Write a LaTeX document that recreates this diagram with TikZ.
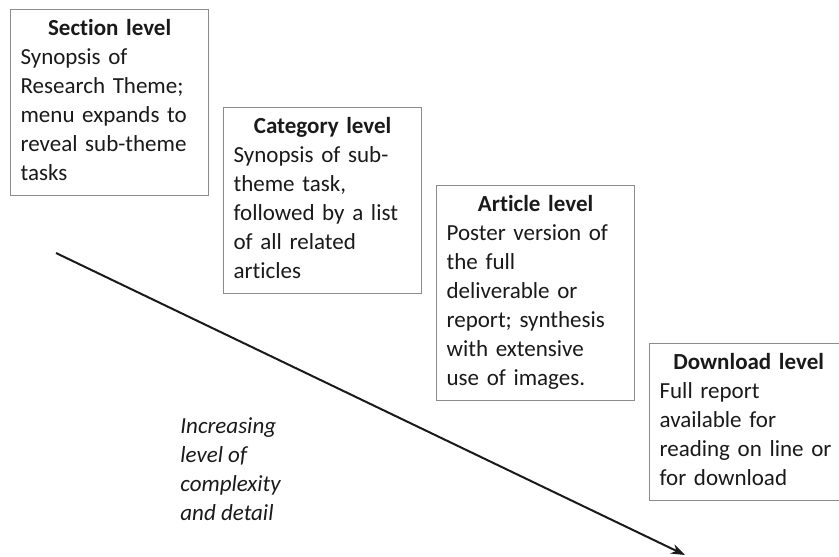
\documentclass[tikz,border=0pt]{standalone}
\usepackage{fontspec}
\setmainfont{Carlito}[Ligatures=NoCommon]
\usetikzlibrary{positioning, calc, arrows.meta}
\definecolor{Ink}{HTML}{1A1A1A}
\definecolor{Frame}{HTML}{8C8C8C}
\definecolor{White}{HTML}{FFFFFF}
\tikzset{
    levelbox/.style={rectangle, draw=Frame, line width=0.6pt, fill=White, text=Ink, anchor=north west,
        text width=89pt, inner xsep=5pt, inner ysep=3pt, align=left, font=\fontsize{11.5}{14.5}\selectfont},
    trendnote/.style={anchor=north west, inner sep=0pt, text=Ink, align=left, font=\fontsize{11.5}{14.5}\selectfont\itshape},
    arrow/.style={-{Stealth[length=7pt, width=5pt]}, line width=1pt, color=Ink},
}
\newcommand{\lvltitle}[1]{\makebox[\hsize][c]{\strut\bfseries #1}\\}

\begin{document}
\begin{tikzpicture}[x=0.5pt, y=-0.5pt]
    \useasboundingbox (0,0) rectangle (839,556);

    % Level boxes
    \node[levelbox] (section) at (10,9) {\lvltitle{Section level}Synopsis of\\ Research Theme;\\ menu expands to\\ reveal sub-theme\\ tasks\strut};
    \node[levelbox] (category) at (223,107) {\lvltitle{Category level}Synopsis of sub-\\ theme task,\\ followed by a list\\ of all related\\ articles\strut};
    \node[levelbox] (article) at (436,185) {\lvltitle{Article level}Poster version of\\ the full\\ deliverable or\\ report; synthesis\\ with extensive\\ use of images.\strut};
    \node[levelbox] (download) at (649,343) {\lvltitle{Download level}Full report\\ available for\\ reading on line or\\ for download\strut};

    % Trend arrow
    \coordinate (low) at (56,253);
    \coordinate (high) at (685,555);
    \draw[arrow] (low) -- (high);
    \node[trendnote] (trend) at (180,417) {Increasing\\ level of\\ complexity\\ and detail};
\end{tikzpicture}
\end{document}
